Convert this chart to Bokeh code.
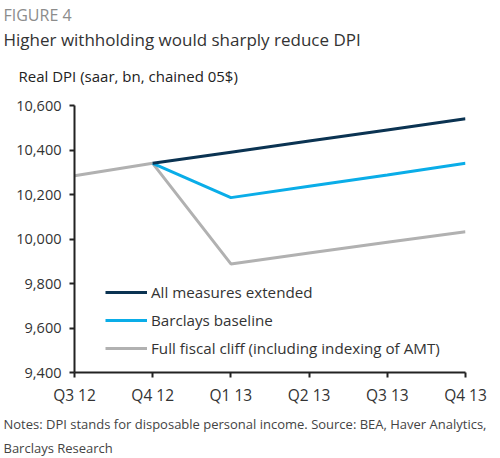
from bokeh.plotting import figure
from bokeh.models import (Range1d, FixedTicker, NumeralTickFormatter, Legend, LegendItem, Title)
from bokeh.embed import file_html
from bokeh.resources import INLINE
import numpy as np

quarters = ["Q3 12", "Q4 12", "Q1 13", "Q2 13", "Q3 13", "Q4 13"]
all_measures = [np.nan, 10340, 10390, 10440, 10490, 10540]
baseline = [np.nan, 10340, 10186, 10237, 10288, 10340]
full_cliff = [10284, 10340, 9888, 9937, 9985, 10033]
y_ticks = [9400, 9600, 9800, 10000, 10200, 10400, 10600]

FONT = "Open Sans"
W, H = 500, 458
FL, FB = 74, 372

x = list(range(len(quarters)))

p = figure(width=W, height=H, output_backend="svg", toolbar_location=None, title=None,
           x_range=Range1d(0, len(quarters) - 1), y_range=Range1d(y_ticks[0], y_ticks[-1]),
           min_border_left=FL, min_border_right=35, min_border_top=105, min_border_bottom=H - FB)
p.outline_line_color = None
p.grid.visible = False
p.background_fill_color = "white"
p.border_fill_color = "white"

r_gray = p.line(x, full_cliff, line_color="#b1b1b1", line_width=3)
r_blue = p.line(x, baseline, line_color="#0aade8", line_width=3)
r_navy = p.line(x, all_measures, line_color="#0b3352", line_width=3)

for ax in (p.xaxis[0], p.yaxis[0]):
    ax.axis_line_color = "#222222"
    ax.axis_line_width = 2
    ax.major_tick_line_color = "#222222"
    ax.major_tick_line_width = 2
    ax.major_tick_in = 0
    ax.minor_tick_line_color = None
    ax.major_label_text_font = FONT
    ax.major_label_text_color = "#333333"

p.xaxis.ticker = FixedTicker(ticks=x)
p.xaxis.major_label_overrides = {i: q for i, q in enumerate(quarters)}
p.xaxis.major_tick_out = 5
p.xaxis.major_label_standoff = 6
p.xaxis.major_label_text_font_size = "15.5px"
p.yaxis.ticker = FixedTicker(ticks=y_ticks)
p.yaxis.formatter = NumeralTickFormatter(format="0,0")
p.yaxis.major_tick_out = 5
p.yaxis.major_label_standoff = 8
p.yaxis.major_label_text_font_size = "14.5px"

legend = Legend(items=[
    LegendItem(label="All measures extended", renderers=[r_navy]),
    LegendItem(label="Barclays baseline", renderers=[r_blue]),
    LegendItem(label="Full fiscal cliff (including indexing of AMT)", renderers=[r_gray]),
], location=(31, 14), padding=0, margin=0, spacing=8,
    glyph_width=42, glyph_height=20, label_height=20, label_standoff=4,
    label_text_font=FONT, label_text_font_size="15.2px", label_text_color="#333333",
    border_line_color=None, background_fill_alpha=0)
p.add_layout(legend, "center")

def ttl(text, px, where, size, color, standoff):
    p.add_layout(Title(text=text, align="left", offset=px - FL, standoff=standoff,
                       text_font=FONT, text_font_size=size, text_color=color,
                       text_font_style="normal"), where)

# above: first added is closest to the frame (a blank spacer first)
ttl(" ", 3, "above", "4px", "#ffffff", 1)
ttl("Real DPI (saar, bn, chained 05$)", 18, "above", "15px", "#222222", 24)
ttl("Higher withholding would sharply reduce DPI", 3, "above", "17px", "#333333", 1)
ttl("FIGURE 4", 3, "above", "16px", "#8c8c8c", 0)
# below: after the x axis
ttl("Notes: DPI stands for disposable personal income. Source: BEA, Haver Analytics,", 3, "below", "13px", "#444444", 8)
ttl("Barclays Research", 3, "below", "13px", "#444444", 0)

open("out.html", "w").write(file_html(p, INLINE))
